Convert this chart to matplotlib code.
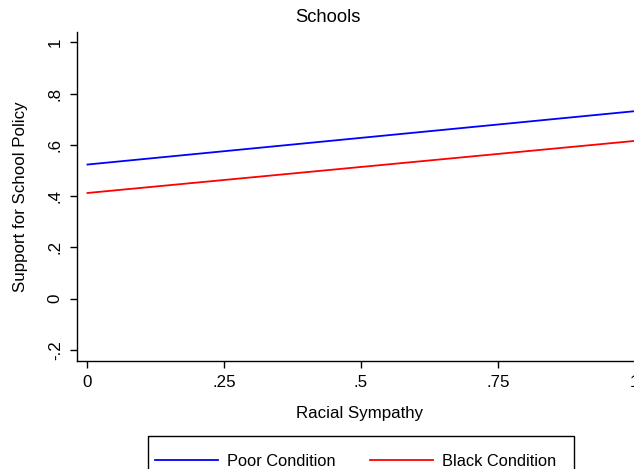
import matplotlib
matplotlib.use("Agg")
import matplotlib.pyplot as plt
from matplotlib.patches import Rectangle
import numpy as np

plt.rcParams['font.family'] = ['Liberation Sans', 'DejaVu Sans']

sympathy = [0.0, 1.0]
poor_condition = [0.523, 0.731]
black_condition = [0.412, 0.615]
series_names = ["Poor Condition", "Black Condition"]
x_ticks = [0, 0.25, 0.5, 0.75, 1]
x_tick_labels = ["0", ".25", ".5", ".75", "1"]
y_ticks = [-0.2, 0, 0.2, 0.4, 0.6, 0.8, 1]
y_tick_labels = ["-.2", "0", ".2", ".4", ".6", ".8", "1"]

W, H = 634, 469
fig = plt.figure(figsize=(W/100, H/100), dpi=100)
fig.patch.set_facecolor('white')

# axes in pixel coordinates
left, right, top, bottom = 76.7, 645.3, 31.7, 360.7
ax = fig.add_axes([left/W, 1-bottom/H, (right-left)/W, (bottom-top)/H])

l1, = ax.plot(sympathy, poor_condition, color='#0000ff', lw=1.3)
l2, = ax.plot(sympathy, black_condition, color='#ff0000', lw=1.3)

ax.set_xlim(-0.0197, 1.0197)
ax.set_ylim(-0.2422, 1.0411)
ax.set_xticks(x_ticks)
ax.set_xticklabels(x_tick_labels)
ax.set_yticks(y_ticks)
ax.set_yticklabels(y_tick_labels, rotation=90, va='center')
ax.tick_params(axis='both', direction='out', length=5, width=1, labelsize=12.2, colors='black', pad=5)
ax.spines['top'].set_visible(False)
ax.spines['right'].set_visible(False)
for s in ['left', 'bottom']:
    ax.spines[s].set_linewidth(1)
    ax.spines[s].set_color('black')

fig.text(327.5/W, 1-17/H, "Schools", ha='center', va='center', fontsize=13.2)
fig.text(360/W, 1-413/H, "Racial Sympathy", ha='center', va='center', fontsize=12.2)
fig.text(20.5/W, 1-197/H, "Support for School Policy", ha='center', va='center', rotation=90, fontsize=12.2)

# legend frame (box extends past bottom edge as in the reference)
fig.patches.append(Rectangle((148/W, 1-492/H), (574-148)/W, (492-436)/H,
                             transform=fig.transFigure, facecolor='white',
                             edgecolor='black', linewidth=1, zorder=0))
leg = fig.legend([l1, l2], series_names, loc='center left',
                 bbox_to_anchor=(148/W, 1-461/H), ncol=2, frameon=False,
                 fontsize=11.8, handlelength=3.84, handletextpad=0.55,
                 columnspacing=2.1, borderpad=0.43, borderaxespad=0)

fig.savefig("out.png", dpi=100, facecolor='white')
